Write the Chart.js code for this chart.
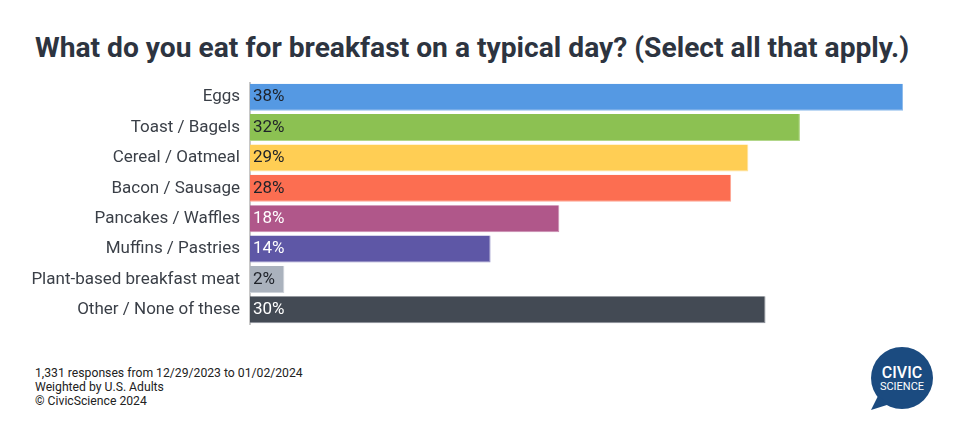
<!DOCTYPE html>
<html>
<head>
<meta charset="utf-8">
<script src="https://cdn.jsdelivr.net/npm/chart.js@4"></script>
<style>
  body { margin: 0; background: #fff; font-family: Roboto, sans-serif; }
  #wrap { position: relative; width: 966px; height: 441px; overflow: hidden; }
  #title { position: absolute; left: 35px; top: 31px; font-size: 28.2px; font-weight: bold; color: #2d3440; white-space: nowrap; line-height: 34px; }
  #myChart { position: absolute; left: 0; top: 82px; }
  #foot { position: absolute; left: 35px; top: 366px; font-size: 12.2px; line-height: 14px; color: #222; }
  #logo { position: absolute; left: 862px; top: 340px; }
</style>
</head>
<body>
<div id="wrap">
  <div id="title">What do you eat for breakfast on a typical day? (Select all that apply.)</div>
  <canvas id="myChart" width="966" height="243"></canvas>
  <div id="foot">1,331 responses from 12/29/2023 to 01/02/2024<br>Weighted by U.S. Adults<br>© CivicScience 2024</div>
  <svg id="logo" width="80" height="80" viewBox="0 0 80 80">
    <circle cx="40" cy="38" r="31" fill="#1b4b80"/>
    <path d="M16 56 L9 70 L28 64 Z" fill="#1b4b80"/>
    <text x="40" y="38" text-anchor="middle" font-family="Roboto, sans-serif" font-size="16" font-weight="500" fill="#fff">CIVIC</text>
    <text x="40" y="50" text-anchor="middle" font-family="Roboto, sans-serif" font-size="11" fill="#fff">SCIENCE</text>
  </svg>
</div>
<script>
const categories = ["Eggs", "Toast / Bagels", "Cereal / Oatmeal", "Bacon / Sausage", "Pancakes / Waffles", "Muffins / Pastries", "Plant-based breakfast meat", "Other / None of these"];
const percentages = [38, 32, 29, 28, 18, 14, 2, 30];
const barColors = ["#5599e3", "#8cc152", "#ffce54", "#fc6e51", "#b0578a", "#5e57a6", "#aab2bd", "#434a54"];
const edgeColors = ["#8fbcec", "#b2d78a", "#ffe29a", "#fda594", "#c98cb0", "#9490c6", "#cdd2d9", "#8a9099"];
const labelColors = ["#1e2229", "#1e2229", "#1e2229", "#1e2229", "#ffffff", "#ffffff", "#1e2229", "#ffffff"];

const insideLabels = {
    id: 'insideLabels',
    afterDatasetsDraw(chart) {
        const ctx = chart.ctx;
        const meta = chart.getDatasetMeta(0);
        ctx.save();
        ctx.font = '17px Roboto';
        ctx.textBaseline = 'middle';
        ctx.textAlign = 'left';
        meta.data.forEach((bar, i) => {
            ctx.fillStyle = labelColors[i];
            ctx.fillText(percentages[i] + '%', bar.base + 3, bar.y);
        });
        ctx.restore();
    }
};

const ctx = document.getElementById('myChart');

new Chart(ctx, {
    type: 'bar',
    data: {
        labels: categories,
        datasets: [{
            data: percentages,
            backgroundColor: barColors,
            borderColor: edgeColors,
            borderWidth: {top: 0, left: 0, right: 1, bottom: 1},
            borderSkipped: false,
            categoryPercentage: 1,
            barPercentage: 0.89
        }]
    },
    options: {
        indexAxis: 'y',
        responsive: false,
        animation: false,
        layout: { padding: { right: 63, top: 0, bottom: 0, left: 0 } },
        plugins: {
            legend: { display: false },
            tooltip: { enabled: false }
        },
        scales: {
            x: {
                display: false,
                min: 0,
                max: 38
            },
            y: {
                grid: { display: true, drawOnChartArea: false, drawTicks: false },
                border: { display: true, color: '#c8c8c8', width: 2 },
                ticks: {
                    color: '#3a3f47',
                    font: { family: 'Roboto', size: 17 },
                    padding: 10
                },
                // fixed axis width, and no extra top/bottom room for the first/last label
                afterFit(scale) {
                    scale.width = 250;
                    scale.paddingTop = 0;
                    scale.paddingBottom = 0;
                }
            }
        }
    },
    plugins: [insideLabels]
});
</script>
</body>
</html>
